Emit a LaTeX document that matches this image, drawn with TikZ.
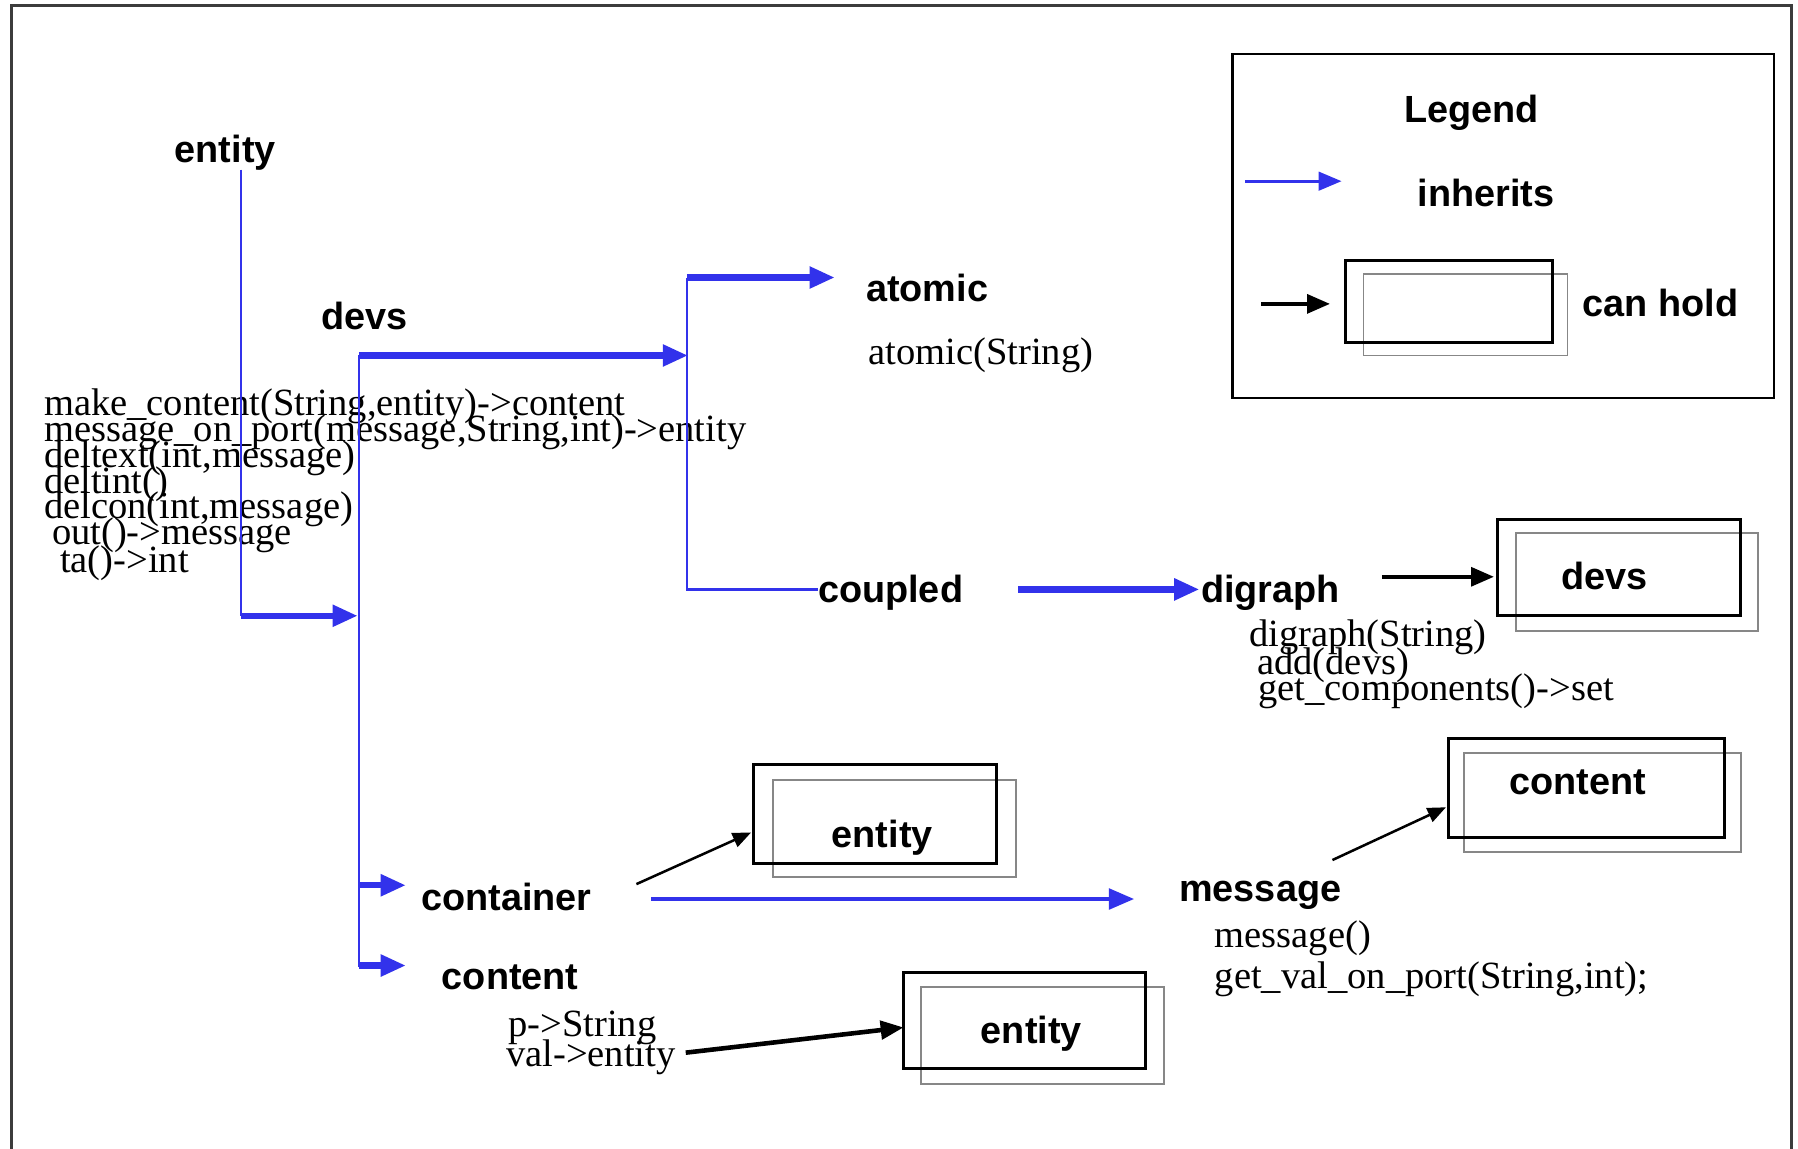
\documentclass[tikz,border=0pt]{standalone}
\usepackage{fontspec}
\setmainfont{Liberation Serif}
\newfontfamily\labelfont{Liberation Sans}
\usetikzlibrary{arrows.meta}
\definecolor{inh}{RGB}{50,50,235}
\definecolor{backgray}{RGB}{135,135,135}
\definecolor{framegray}{RGB}{60,60,60}

\begin{document}
\begin{tikzpicture}[x=0.5pt,y=-0.5pt,
  lbl/.style={font=\labelfont\bfseries\fontsize{16.5}{19}\selectfont, inner sep=0pt, anchor=base west},
  mth/.style={font=\fontsize{16.8}{20}\selectfont, inner sep=0pt, anchor=base west},
  inhline/.style={draw=inh, line width=1pt},
  inharrow/.style={draw=inh, line width=2.8pt, -{Triangle[length=11pt,width=9pt]}},
  inhmid/.style={draw=inh, line width=1.6pt, -{Triangle[length=11pt,width=9pt]}},
  holdthick/.style={draw=black, line width=2pt, -{Triangle[length=10pt,width=8pt]}},
  holdthin/.style={draw=black, line width=1.1pt, -{Triangle[length=8pt,width=6.5pt]}},
  frontbox/.style={draw=black, line width=1.3pt},
  backbox/.style={draw=backgray, line width=0.8pt}
]
% page area and outer frame
\useasboundingbox (0,0) rectangle (1568,1002);
\draw[framegray, line width=1.4pt] (10,1010) -- (10,5) -- (1562,5) -- (1562,1010);

% ---------- legend ----------
\draw[black, line width=1.1pt] (1075,47) rectangle (1547,347);
\node[lbl] (legend) at (1224,107) {Legend};
\node[lbl] (inherits) at (1236,180) {inherits};
\coordinate (lgA) at (1086,158);
\coordinate (lgB) at (1170,158);
\draw[draw=inh, line width=1.4pt, -{Triangle[length=10pt,width=8pt]}] (lgA) -- (lgB);
\draw[backbox] (1189,239) rectangle (1367,310);
\draw[frontbox] (1173,227) rectangle (1354,299);
\coordinate (lhA) at (1100,265);
\coordinate (lhB) at (1160,265);
\draw[holdthick] (lhA) -- (lhB);
\node[lbl] (canhold) at (1380,276) {can hold};

% ---------- class names ----------
\node[lbl] (entity) at (152,142) {entity};
\node[lbl] (devs) at (280,287) {devs};
\node[lbl] (atomic) at (755,263) {atomic};
\node[lbl] (coupled) at (713,525) {coupled};
\node[lbl] (digraph) at (1047,525) {digraph};
\node[lbl] (container) at (367,794) {container};
\node[lbl] (content) at (385,863) {content};
\node[lbl] (message) at (1028,786) {message};

% ---------- methods ----------
\node[mth] (m1) at (38,362) {make\_content(String,entity)->content};
\node[mth] (m2) at (38,385) {message\_on\_port(message,String,int)->entity};
\node[mth] (m3) at (38,408) {deltext(int,message)};
\node[mth] (m4) at (38,430) {deltint()};
\node[mth] (m5) at (38,452) {delcon(int,message)};
\node[mth] (m6) at (45,475) {out()->message};
\node[mth] (m7) at (52,499) {ta()->int};
\node[mth] (a1) at (757,318) {atomic(String)};
\node[mth] (d1) at (1089,564) {digraph(String)};
\node[mth] (d2) at (1096,588) {add(devs)};
\node[mth] (d3) at (1097,611) {get\_components()->set};
\node[mth] (g1) at (1059,826) {message()};
\node[mth] (g2) at (1059,862) {get\_val\_on\_port(String,int);};
\node[mth] (c1) at (443,904) {p->String};
\node[mth] (c2) at (441,930) {val->entity};

% ---------- held objects (double boxes) ----------
\draw[backbox] (1322,465) rectangle (1533,550);
\draw[frontbox] (1306,453) rectangle (1518,537);
\node[lbl] (hdevs) at (1361,514) {devs};

\draw[backbox] (674,680) rectangle (886,765);
\draw[frontbox] (657,667) rectangle (869,753);
\node[lbl] (hentityA) at (725,739) {entity};

\draw[backbox] (1277,657) rectangle (1518,743);
\draw[frontbox] (1263,644) rectangle (1504,730);
\node[lbl] (hcontent) at (1316,693) {content};

\draw[backbox] (803,861) rectangle (1015,945);
\draw[frontbox] (788,848) rectangle (999,932);
\node[lbl] (hentityB) at (855,910) {entity};

% ---------- inheritance tree ----------
\coordinate (eTop) at (210,148);
\coordinate (eJ) at (210,537);
\coordinate (dJin) at (312,537);
\coordinate (dTop) at (313,310);
\coordinate (dBot) at (313,843);
\coordinate (dJA) at (600,310);
\coordinate (aTop) at (599,242);
\coordinate (aBot) at (599,514);
\coordinate (aTip) at (728,242);
\coordinate (cpEnd) at (713,514);
\coordinate (cpA) at (888,514);
\coordinate (cpB) at (1046,514);
\coordinate (ctJ) at (313,772);
\coordinate (ctTip) at (354,772);
\coordinate (cnJ) at (313,842);
\coordinate (cnTip) at (354,842);
\coordinate (msA) at (568,784);
\coordinate (msB) at (989,784);

\draw[inhline] (eTop) -- (eJ);
\draw[inharrow] (eJ) -- (dJin);
\draw[inhline] (dTop) -- (dBot);
\draw[inharrow] (dTop) -- (dJA);
\draw[inhline] (aTop) -- (aBot) -- (cpEnd);
\draw[inharrow] (aTop) -- (aTip);
\draw[inharrow] (cpA) -- (cpB);
\draw[inharrow] (ctJ) -- (ctTip);
\draw[inharrow] (cnJ) -- (cnTip);
\draw[inhmid] (msA) -- (msB);

% ---------- holding relations ----------
\coordinate (hdA) at (1205,503);
\coordinate (hdB) at (1303,503);
\draw[holdthick] (hdA) -- (hdB);
\coordinate (hcA) at (555,771);
\coordinate (hcB) at (655,726);
\draw[holdthin] (hcA) -- (hcB);
\coordinate (hmA) at (1162,750);
\coordinate (hmB) at (1261,704);
\draw[holdthin] (hmA) -- (hmB);
\coordinate (hvA) at (598,918);
\coordinate (hvB) at (788,896);
\draw[holdthick] (hvA) -- (hvB);
\end{tikzpicture}
\end{document}
